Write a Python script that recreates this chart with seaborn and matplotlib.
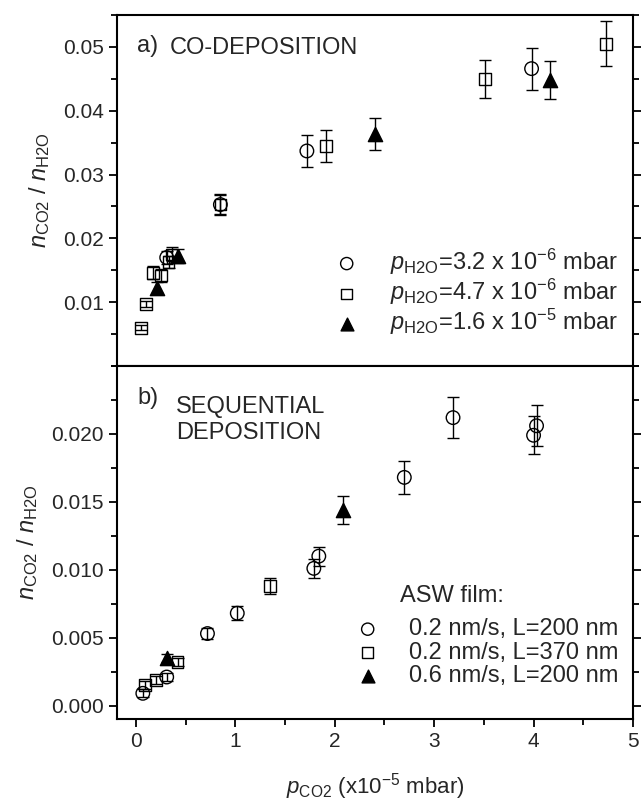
import matplotlib
matplotlib.use("Agg")
import matplotlib.pyplot as plt
import seaborn as sns
from matplotlib.ticker import MultipleLocator

# ---- panel a) co-deposition ----
a_circ_x = [0.31, 0.85, 1.72, 3.98]
a_circ_y = [0.0170, 0.0253, 0.0337, 0.0466]
a_circ_e = [0.0010, 0.0015, 0.0025, 0.0033]

a_sq_x = [0.05, 0.10, 0.17, 0.25, 0.33, 0.36, 0.85, 1.91, 3.51, 4.73]
a_sq_y = [0.0060, 0.0097, 0.0146, 0.0142, 0.0163, 0.0175, 0.0253, 0.0345, 0.0450, 0.0505]
a_sq_e = [0.0004, 0.0005, 0.0010, 0.0010, 0.0010, 0.0011, 0.0017, 0.0025, 0.0030, 0.0035]

a_tri_x = [0.21, 0.42, 2.41, 4.17]
a_tri_y = [0.0123, 0.0173, 0.0363, 0.0448]
a_tri_e = [0.0008, 0.0011, 0.0025, 0.0030]

# ---- panel b) sequential deposition ----
b_circ_x = [0.07, 0.31, 0.72, 1.02, 1.79, 1.84, 2.70, 3.19, 4.00, 4.03]
b_circ_y = [0.0009, 0.0021, 0.0053, 0.0068, 0.0101, 0.0110, 0.0168, 0.0212, 0.0199, 0.0206]
b_circ_e = [0.0003, 0.0003, 0.0004, 0.0005, 0.0007, 0.0007, 0.0012, 0.0015, 0.0014, 0.0015]

b_sq_x = [0.09, 0.20, 0.42, 1.35]
b_sq_y = [0.0015, 0.0019, 0.0032, 0.0088]
b_sq_e = [0.0003, 0.0003, 0.0003, 0.0006]

b_tri_x = [0.31, 2.08]
b_tri_y = [0.0035, 0.0144]
b_tri_e = [0.0003, 0.0010]

a_labels = [r"$p_{\mathrm{H2O}}$=3.2 x 10$^{\mathrm{-6}}$ mbar",
            r"$p_{\mathrm{H2O}}$=4.7 x 10$^{\mathrm{-6}}$ mbar",
            r"$p_{\mathrm{H2O}}$=1.6 x 10$^{\mathrm{-5}}$ mbar"]
b_labels = ["0.2 nm/s, L=200 nm", "0.2 nm/s, L=370 nm", "0.6 nm/s, L=200 nm"]

a_yticks = [0.01, 0.02, 0.03, 0.04, 0.05]
b_yticks = [0.000, 0.005, 0.010, 0.015, 0.020]
x_ticks = [0, 1, 2, 3, 4, 5]

sns.set_style("ticks")
plt.rcParams['font.family'] = ['Liberation Sans', 'DejaVu Sans']
plt.rcParams['mathtext.fontset'] = 'custom'
plt.rcParams['mathtext.rm'] = 'Liberation Sans'
plt.rcParams['mathtext.it'] = 'Liberation Sans:italic'

fig = plt.figure(figsize=(6.41, 8.08), dpi=100)
ax1 = fig.add_axes([0.1825, 0.547, 0.805, 0.4344])
ax2 = fig.add_axes([0.1825, 0.110, 0.805, 0.437])


def draw_series(ax, x, y, err, marker, size, filled, label):
    # error bars first, open markers on top
    ax.errorbar(x, y, yerr=err, fmt='none', ecolor='black', elinewidth=1,
                capsize=4, capthick=1, zorder=2)
    sns.scatterplot(x=x, y=y, ax=ax, marker=marker, s=size,
                    facecolor='black' if filled else 'none',
                    edgecolor='black', linewidth=1, label=label, zorder=3)


draw_series(ax1, a_circ_x, a_circ_y, a_circ_e, 'o', 95, False, a_labels[0])
draw_series(ax1, a_sq_x, a_sq_y, a_sq_e, 's', 70, False, a_labels[1])
draw_series(ax1, a_tri_x, a_tri_y, a_tri_e, '^', 105, True, a_labels[2])

draw_series(ax2, b_circ_x, b_circ_y, b_circ_e, 'o', 95, False, b_labels[0])
draw_series(ax2, b_sq_x, b_sq_y, b_sq_e, 's', 70, False, b_labels[1])
draw_series(ax2, b_tri_x, b_tri_y, b_tri_e, '^', 105, True, b_labels[2])

for ax in (ax1, ax2):
    ax.set_xlim(-0.19, 5.0)
    ax.set_xticks(x_ticks)
    ax.xaxis.set_minor_locator(MultipleLocator(0.5))
    ax.tick_params(which='both', direction='out', right=True, width=1.3,
                   labelsize=15, color='black')
    ax.tick_params(which='major', length=6)
    ax.tick_params(which='minor', length=4)
    for sp in ax.spines.values():
        sp.set_visible(True)
        sp.set_linewidth(1.5)
        sp.set_color('black')
    ax.set_ylabel(r"$n_{\mathrm{CO2}}$ / $n_{\mathrm{H2O}}$", fontsize=17, labelpad=8)

ax1.set_ylim(0, 0.055)
ax1.set_yticks(a_yticks)
ax1.set_yticklabels(["%.2f" % v for v in a_yticks])
ax1.yaxis.set_minor_locator(MultipleLocator(0.005))
ax1.tick_params(axis='x', which='both', bottom=False, labelbottom=False)

ax2.set_ylim(-0.001, 0.025)
ax2.set_yticks(b_yticks)
ax2.set_yticklabels(["%.3f" % v for v in b_yticks])
ax2.yaxis.set_minor_locator(MultipleLocator(0.0025))
ax2.set_xticklabels([str(v) for v in x_ticks])
ax2.set_xlabel(r"$p_{\mathrm{CO2}}$ (x10$^{\mathrm{-5}}$ mbar)", fontsize=16, labelpad=14)

ax1.text(0.039, 0.912, "a)", transform=ax1.transAxes, fontsize=17, va='center')
ax1.text(0.103, 0.906, "CO-DEPOSITION", transform=ax1.transAxes, fontsize=17, va='center')
ax2.text(0.039, 0.909, "b)", transform=ax2.transAxes, fontsize=17, va='center')
ax2.text(0.114, 0.847, "SEQUENTIAL\nDEPOSITION", transform=ax2.transAxes, fontsize=17,
         va='center', linespacing=1.25)

ax1.legend(loc='lower right', bbox_to_anchor=(0.99, 0.055), frameon=False, fontsize=17,
           handletextpad=0.85, labelspacing=0.0, borderaxespad=0, markerscale=0.9)
ax2.legend(loc='lower right', bbox_to_anchor=(0.99, 0.065), frameon=False, fontsize=17,
           handletextpad=0.75, labelspacing=0.05, borderaxespad=0, markerscale=0.9)
ax2.text(0.548, 0.348, "ASW film:", transform=ax2.transAxes, fontsize=17, va='center')

fig.savefig("out.png", dpi=100)
